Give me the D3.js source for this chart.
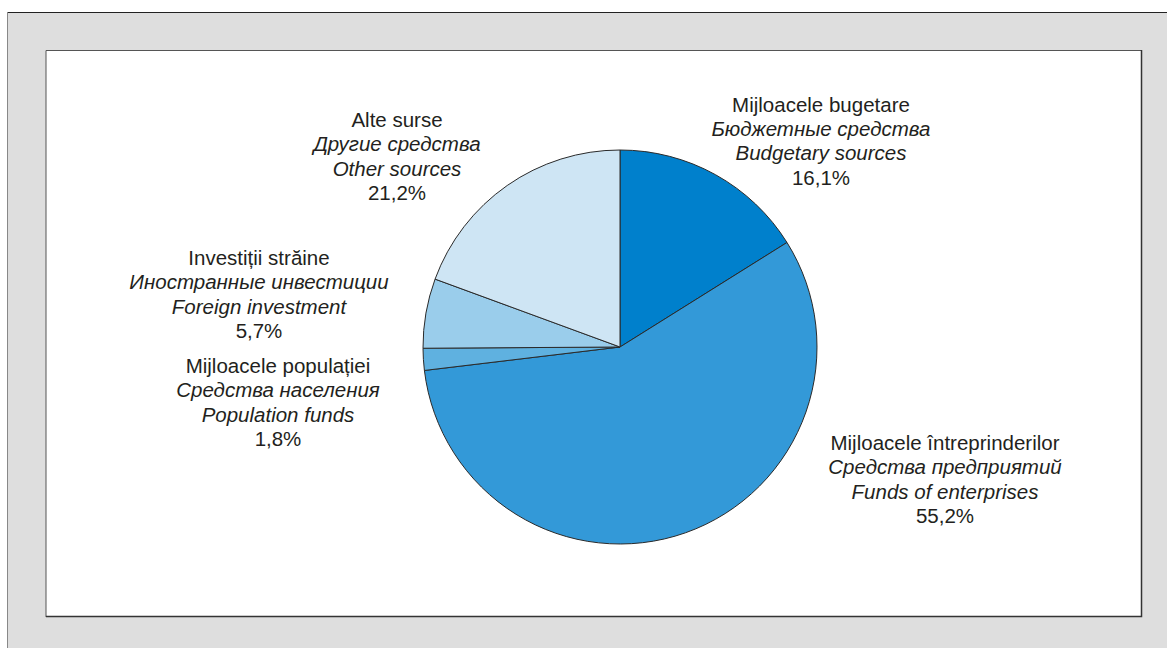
<!DOCTYPE html>
<html><head><meta charset="utf-8">
<script src="https://cdn.jsdelivr.net/npm/d3@7"></script>
<style>body{margin:0;background:#fff;} svg{display:block;} text{font-family:"Liberation Sans",Arial,sans-serif;fill:#231f20;font-size:20.5px;}</style>
</head><body>
<svg id="c" width="1167" height="648"></svg>
<script>
const categoriesRo = ["Mijloacele bugetare","Mijloacele întreprinderilor","Mijloacele populației","Investiții străine","Alte surse"];
const categoriesRu = ["Бюджетные средства","Средства предприятий","Средства населения","Иностранные инвестиции","Другие средства"];
const categoriesEn = ["Budgetary sources","Funds of enterprises","Population funds","Foreign investment","Other sources"];
// slice sizes as drawn in the picture (angles measured off the slices)
const sliceValues = [16.1, 57.0, 1.8, 5.7, 19.4];
// percentages printed on the labels
const valueLabels = ["16,1%","55,2%","1,8%","5,7%","21,2%"];
const colors = ["#0080cc","#3399d8","#5fb1e0","#9acdeb","#cee5f4"];
const labelPos = [[821,111.5],[945,450],[278,373],[259,265],[397,127]];

const svg = d3.select("#c");
// outer frame
svg.append("rect").attr("x",7).attr("y",12).attr("width",1170).attr("height",650).attr("fill","#dedede");
svg.append("line").attr("x1",7).attr("x2",1167).attr("y1",12.5).attr("y2",12.5).attr("stroke","#222").attr("stroke-width",1);
svg.append("line").attr("x1",7.5).attr("x2",7.5).attr("y1",12).attr("y2",648).attr("stroke","#888").attr("stroke-width",1);
// inner panel
svg.append("rect").attr("x",46).attr("y",50).attr("width",1096).attr("height",567).attr("fill","#fff");
svg.append("path").attr("d","M46,617V50.5H1142").attr("fill","none").attr("stroke","#555").attr("stroke-width",1);
svg.append("path").attr("d","M46,616.5H1141.5V50").attr("fill","none").attr("stroke","#333").attr("stroke-width",1.5);

const cx=620, cy=347, r=197;
const pie = d3.pie().sort(null).value(d=>d)(sliceValues);
const arc = d3.arc().innerRadius(0).outerRadius(r);
const g = svg.append("g").attr("transform",`translate(${cx},${cy})`);
g.selectAll("path").data(pie).join("path").attr("d",arc)
 .attr("fill",(d,i)=>colors[i]).attr("stroke","#2a2a2a").attr("stroke-width",1).attr("stroke-linejoin","round");

const lineH = 24.4;
labelPos.forEach((p,i)=>{
  const t = svg.append("text").attr("text-anchor","middle").attr("x",p[0]).attr("y",p[1]);
  [categoriesRo[i],categoriesRu[i],categoriesEn[i],valueLabels[i]].forEach((s,j)=>{
    t.append("tspan").attr("x",p[0]).attr("y",p[1]+j*lineH).text(s)
     .attr("font-style",(j===1||j===2)?"italic":"normal");
  });
});
</script>
</body></html>
